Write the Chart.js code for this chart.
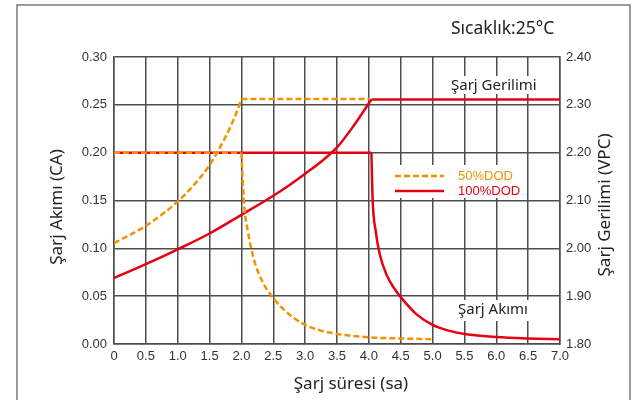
<!DOCTYPE html>
<html>
<head>
<meta charset="utf-8">
<script src="https://cdn.jsdelivr.net/npm/chart.js@4.4.1/dist/chart.umd.min.js"></script>
<style>
  html, body { margin: 0; padding: 0; background: #fff; }
  #chart { display: block; }
</style>
</head>
<body>
<canvas id="chart" width="638" height="400"></canvas>
<script>
// values
var xTickLabels = ['0', '0.5', '1.0', '1.5', '2.0', '2.5', '3.0', '3.5', '4.0', '4.5', '5.0', '5.5', '6.0', '6.5', '7.0'];
var ampTickLabels = ['0.00', '0.05', '0.10', '0.15', '0.20', '0.25', '0.30'];
var voltTickLabels = ['1.80', '1.90', '2.00', '2.10', '2.20', '2.30', '2.40'];
var legendLabels = ['50%DOD', '100%DOD'];

// 50%DOD
var ampHours50 = [0, 2.0, 2.02, 2.05, 2.1, 2.15, 2.22, 2.33, 2.5, 2.75, 3.0, 3.25, 3.5, 4.0, 4.5, 5.0];
var amps50 = [0.20, 0.20, 0.171, 0.140, 0.118, 0.101, 0.083, 0.065, 0.048, 0.031, 0.020, 0.014, 0.0105, 0.007, 0.0058, 0.005];
var voltHours50 = [0, 0.5, 1.0, 1.25, 1.5, 1.75, 1.9, 2.0, 4.0];
var volts50 = [2.011, 2.047, 2.098, 2.132, 2.174, 2.233, 2.276, 2.312, 2.312];

// 100%DOD
var ampHours100 = [0, 4.04, 4.06, 4.11, 4.17, 4.28, 4.4, 4.5, 4.75, 5.0, 5.25, 5.5, 6.0, 6.5, 7.0];
var amps100 = [0.20, 0.20, 0.150, 0.117, 0.094, 0.072, 0.058, 0.049, 0.031, 0.020, 0.014, 0.0105, 0.0072, 0.0057, 0.005];
var voltHours100 = [0, 0.5, 1.0, 1.5, 2.0, 2.5, 2.75, 3.0, 3.25, 3.5, 3.75, 4.04, 7.0];
var volts100 = [1.938, 1.967, 1.998, 2.031, 2.070, 2.110, 2.132, 2.156, 2.181, 2.211, 2.254, 2.311, 2.311];

var ORANGE = '#f39200';
var RED = '#e60012';
var GRID = '#4d4d4d';

function pts(xs, ys, from, to) {
  var out = [];
  for (var i = from; i < to; i++) out.push({x: xs[i], y: ys[i]});
  return out;
}

function line(data, axis, color, dashed, curved, order) {
  return {
    data: data,
    yAxisID: axis,
    borderColor: color,
    borderWidth: 2.5,
    borderDash: dashed ? [6, 3] : [],
    pointRadius: 0,
    fill: false,
    cubicInterpolationMode: curved ? 'monotone' : 'default',
    tension: 0,
    order: order
  };
}

var datasets = [
  // 50%DOD on top
  line(pts(ampHours50, amps50, 0, 2), 'y', ORANGE, true, false, 0),
  line(pts(ampHours50, amps50, 1, ampHours50.length), 'y', ORANGE, true, true, 0),
  line(pts(voltHours50, volts50, 0, 8), 'y1', ORANGE, true, true, 0),
  line(pts(voltHours50, volts50, 7, voltHours50.length), 'y1', ORANGE, true, false, 0),
  // 100%DOD
  line(pts(ampHours100, amps100, 0, 2), 'y', RED, false, false, 1),
  line(pts(ampHours100, amps100, 1, ampHours100.length), 'y', RED, false, true, 1),
  line(pts(voltHours100, volts100, 0, 12), 'y1', RED, false, true, 1),
  line(pts(voltHours100, volts100, 11, voltHours100.length), 'y1', RED, false, false, 1)
];

var tickFont = {family: 'Liberation Sans', size: 13};
var titleFont = 'Noto Sans';

function whiteBox(ctx, x, y, w, h) {
  ctx.fillStyle = '#fff';
  ctx.fillRect(x, y, w, h);
}

var decorations = {
  id: 'decorations',
  beforeDatasetsDraw: function (chart) {
    var ctx = chart.ctx;
    ctx.save();
    whiteBox(ctx, 447, 76, 92, 18);   // Şarj Gerilimi
    whiteBox(ctx, 453, 300, 78, 21);  // Şarj Akımı
    whiteBox(ctx, 388, 165, 130, 33); // legend
    ctx.restore();
  },
  afterDraw: function (chart) {
    var ctx = chart.ctx;
    ctx.save();

    // outer frame
    ctx.strokeStyle = '#7a7a7a';
    ctx.lineWidth = 1.5;
    ctx.strokeRect(17, 5, 613, 410);

    ctx.fillStyle = '#222';
    ctx.textBaseline = 'middle';
    ctx.textAlign = 'left';
    ctx.font = '17.5px "' + titleFont + '"';
    ctx.fillText('Sıcaklık:25°C', 451, 29);
    ctx.font = '15px "' + titleFont + '"';
    ctx.fillText('Şarj Gerilimi', 451, 86);
    ctx.fillText('Şarj Akımı', 458, 310);

    // axis titles
    ctx.font = '17px "' + titleFont + '"';
    ctx.textAlign = 'center';
    ctx.fillText('Şarj süresi (sa)', 351, 384);
    ctx.save();
    ctx.translate(57, 207);
    ctx.rotate(-Math.PI / 2);
    ctx.fillText('Şarj Akımı (CA)', 0, 0);
    ctx.restore();
    ctx.save();
    ctx.translate(605, 205);
    ctx.rotate(-Math.PI / 2);
    ctx.fillText('Şarj Gerilimi (VPC)', 0, 0);
    ctx.restore();

    // legend
    var colors = [ORANGE, RED];
    var rows = [176, 191];
    ctx.lineWidth = 2.5;
    ctx.font = '13px "Liberation Sans"';
    ctx.textAlign = 'left';
    for (var i = 0; i < 2; i++) {
      ctx.strokeStyle = colors[i];
      ctx.setLineDash(i === 0 ? [6, 3] : []);
      ctx.beginPath();
      ctx.moveTo(395, rows[i]);
      ctx.lineTo(444, rows[i]);
      ctx.stroke();
      ctx.fillStyle = colors[i];
      ctx.fillText(legendLabels[i], 458, rows[i]);
    }
    ctx.restore();
  }
};

new Chart(document.getElementById('chart'), {
  type: 'line',
  data: {datasets: datasets},
  options: {
    responsive: false,
    animation: false,
    layout: {padding: {top: 57, left: 0, right: 0, bottom: 0}},
    plugins: {legend: {display: false}, tooltip: {enabled: false}},
    scales: {
      x: {
        type: 'linear',
        min: 0,
        max: 7,
        afterFit: function (s) { s.height = 56; },
        grid: {color: GRID, lineWidth: 1.5, drawTicks: false},
        border: {color: GRID, width: 1.5},
        ticks: {
          stepSize: 0.5,
          padding: 5,
          color: '#333',
          font: tickFont,
          maxRotation: 0,
          autoSkip: false,
          callback: function (v) { return xTickLabels[Math.round(v * 2)]; }
        }
      },
      y: {
        position: 'left',
        min: 0,
        max: 0.30,
        afterFit: function (s) { s.width = 114; },
        grid: {color: GRID, lineWidth: 1.5, drawTicks: false},
        border: {color: GRID, width: 1.5},
        ticks: {
          stepSize: 0.05,
          padding: 7,
          color: '#333',
          font: tickFont,
          callback: function (v) { return ampTickLabels[Math.round(v / 0.05)]; }
        }
      },
      y1: {
        position: 'right',
        min: 1.8,
        max: 2.4,
        afterFit: function (s) { s.width = 78; },
        grid: {drawOnChartArea: false, drawTicks: false},
        border: {color: GRID, width: 1.5},
        ticks: {
          stepSize: 0.1,
          padding: 6,
          color: '#333',
          font: tickFont,
          callback: function (v) { return voltTickLabels[Math.round((v - 1.8) / 0.1)]; }
        }
      }
    }
  },
  plugins: [decorations]
});
</script>
</body>
</html>
